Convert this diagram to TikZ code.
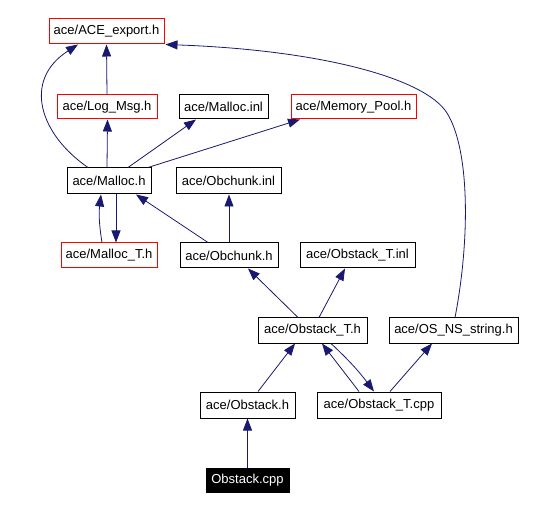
\documentclass[tikz,border=0pt]{standalone}
\usepackage{fontspec}
\setmainfont{Liberation Sans}
\usetikzlibrary{arrows.meta,calc}
\definecolor{edgeblue}{HTML}{191970}
\tikzset{
  box/.style={draw=black, line width=1pt, inner sep=0pt, font=\fontsize{13}{15}\selectfont, text=black},
  redbox/.style={box, draw=red},
  rootbox/.style={box, fill=black, text=white},
  dep/.style={draw=edgeblue, line width=0.8pt, -{Triangle[length=12pt,width=9pt]}, edgeblue},
}
\begin{document}
\begin{tikzpicture}[x=1pt,y=-1pt]
\useasboundingbox (0,0) rectangle (535,510);
\fill[white] (0,0) rectangle (535,510);
\node[redbox, minimum width=115, minimum height=25] (ace) at (106.5,31.5) {ace/ACE\_export.h};
\node[redbox, minimum width=100, minimum height=24] (log) at (107,107) {ace/Log\_Msg.h};
\node[box, minimum width=89, minimum height=24] (minl) at (223.5,107) {ace/Malloc.inl};
\node[redbox, minimum width=125, minimum height=24] (mpool) at (353.5,107) {ace/Memory\_Pool.h};
\node[box, minimum width=84, minimum height=26] (malloc) at (109,181) {ace/Malloc.h};
\node[box, minimum width=105, minimum height=26] (obinl) at (228.5,181) {ace/Obchunk.inl};
\node[redbox, minimum width=96, minimum height=25] (malloct) at (109,255.5) {ace/Malloc\_T.h};
\node[box, minimum width=98, minimum height=25] (obh) at (229,255.5) {ace/Obchunk.h};
\node[box, minimum width=115, minimum height=25] (otinl) at (357.5,255.5) {ace/Obstack\_T.inl};
\node[box, minimum width=109, minimum height=25] (oth) at (312.5,330.5) {ace/Obstack\_T.h};
\node[box, minimum width=129, minimum height=25] (osns) at (453.5,330.5) {ace/OS\_NS\_string.h};
\node[box, minimum width=95, minimum height=26] (obsh) at (247.5,405) {ace/Obstack.h};
\node[box, minimum width=124, minimum height=26] (otcpp) at (379,405) {ace/Obstack\_T.cpp};
\node[rootbox, minimum width=83, minimum height=24] (cpp) at (247.5,480) {Obstack.cpp};

\draw[dep] (log.north) -- (ace.south);
\draw[dep] ([xshift=-21]malloc.north) .. controls +(-48,-33) and +(-56,36) .. ([xshift=-28.5]ace.south);
\draw[dep] ([xshift=-2]malloc.north) -- ([xshift=0.5]log.south);
\draw[dep] ([xshift=19]malloc.north) -- ([xshift=-27.5]minl.south);
\draw[dep] ([xshift=39]malloc.north) -- ([xshift=-53.5]mpool.south);
\draw[dep] ([xshift=1.5]osns.north) .. controls (470,240) and (470,150) .. (447,113) .. controls (425,78) and (320,50) .. ([xshift=1]ace.south east);
\draw[dep] ([xshift=-7]malloct.north) to[bend left=8] ([xshift=-8]malloc.south);
\draw[dep] ([xshift=7]malloc.south) -- ([xshift=7]malloct.north);
\draw[dep] ([xshift=-21]obh.north) -- ([xshift=27]malloc.south);
\draw[dep] (obh.north) -- (obh.north |- obinl.south);
\draw[dep] ([xshift=-14.5]oth.north) -- ([xshift=19]obh.south);
\draw[dep] ([xshift=6.5]oth.north) -- ([xshift=-12.5]otinl.south);
\draw[dep] ([xshift=10.5]obsh.north) -- ([xshift=-17.5]oth.south);
\draw[dep] ([xshift=-20]otcpp.north) -- ([xshift=9.5]oth.south);
\draw[dep] ([xshift=18.5]oth.south) to[bend left=5] ([xshift=-5]otcpp.north);
\draw[dep] ([xshift=11]otcpp.north) -- ([xshift=-21.5]osns.south);
\draw[dep] (cpp.north) -- (obsh.south);
\end{tikzpicture}
\end{document}
